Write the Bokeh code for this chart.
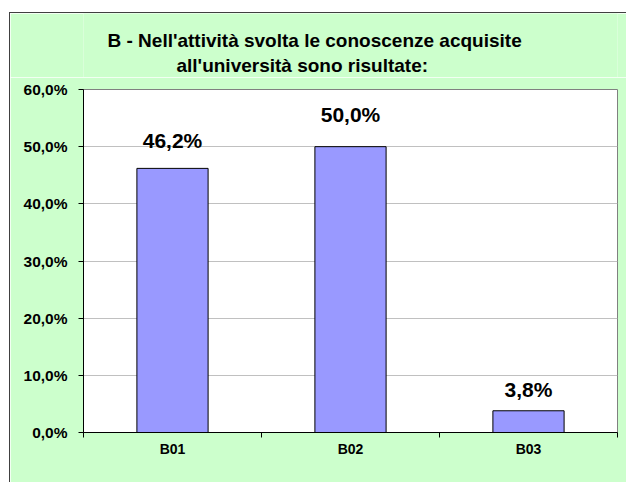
from bokeh.plotting import figure
from bokeh.layouts import column
from bokeh.models import (ColumnDataSource, Range1d, FixedTicker, CustomJSTickFormatter)
from bokeh.core.properties import value
from bokeh.embed import file_html
from bokeh.resources import INLINE

# ---- data ----
categories = ["B01", "B02", "B03"]
values = [46.2, 50.0, 3.8]
y_ticks = [0, 10, 20, 30, 40, 50, 60]
title_lines = ["B - Nell'attività svolta le conoscenze acquisite",
               "all'università sono risultate:"]

# ---- style ----
label_offsets = [-28, -32, -21]
title_x = [24, 93]       # pixel positions in the title strip (from plot-area left)
title_y = [27, 52]       # pixel positions from strip top
FONT = "Liberation Sans"
GREEN = "#CCFFCC"
BAR = "#9999FF"
W = 616
TH = 64
BL, BR = 73, 9
FW = W - BL - BR

# ---- title strip ----
tfig = figure(width=W, height=TH, x_range=Range1d(0, FW), y_range=Range1d(TH, 0),
              output_backend="svg", toolbar_location=None, title=None,
              x_axis_type=None, y_axis_type=None,
              min_border_left=BL, min_border_right=BR,
              min_border_top=0, min_border_bottom=0,
              border_fill_color=GREEN, background_fill_color=GREEN, outline_line_color=None)
tfig.xgrid.grid_line_color = None
tfig.ygrid.grid_line_color = None
tfig.text(x=title_x, y=title_y, text=title_lines, text_align="left",
          text_baseline="alphabetic", text_font=value(FONT), text_font_style="bold",
          text_font_size="19px", text_color="black")

# ---- chart ----
xs = [i + 0.5 for i in range(len(categories))]
labels = [f"{v:.1f}".replace(".", ",") + "%" for v in values]
src = ColumnDataSource(dict(x=xs, top=values, lab=labels, off=label_offsets))

p = figure(width=W, height=405, title=None,
           x_range=Range1d(0, len(categories)), y_range=Range1d(y_ticks[0], y_ticks[-1]),
           output_backend="svg", toolbar_location=None,
           min_border_left=BL, min_border_right=BR, min_border_top=12, min_border_bottom=50,
           border_fill_color=GREEN, background_fill_color="white")
p.outline_line_color = "#808080"
p.outline_line_width = 1

p.vbar(x="x", top="top", bottom=0, width=0.4, source=src,
       fill_color=BAR, line_color="black", line_width=1)
p.text(x="x", y="top", text="lab", y_offset="off", source=src,
       text_align="center", text_baseline="alphabetic",
       text_font_size="21px", text_font_style="bold", text_color="black",
       text_font=value(FONT))

xa = p.xaxis[0]
xa.ticker = FixedTicker(ticks=xs, minor_ticks=list(range(len(categories) + 1)))
xa.formatter = CustomJSTickFormatter(args=dict(labels=categories),
                                     code="return labels[Math.floor(tick)];")
xa.major_tick_out = 0
xa.major_tick_in = 0
xa.minor_tick_out = 5
xa.minor_tick_in = 0
xa.minor_tick_line_color = "black"
xa.axis_line_color = "black"
xa.major_label_text_font = FONT
xa.major_label_text_font_style = "bold"
xa.major_label_text_font_size = "14px"
xa.major_label_text_color = "black"
xa.major_label_standoff = 3

ya = p.yaxis[0]
ya.ticker = FixedTicker(ticks=y_ticks)
ya.formatter = CustomJSTickFormatter(code="return tick.toFixed(1).replace('.', ',') + '%';")
ya.major_tick_out = 5
ya.major_tick_in = 0
ya.minor_tick_out = 0
ya.minor_tick_in = 0
ya.axis_line_color = "black"
ya.major_tick_line_color = "black"
ya.major_label_text_font = FONT
ya.major_label_text_font_style = "bold"
ya.major_label_text_font_size = "15.5px"
ya.major_label_text_color = "black"
ya.major_label_standoff = 11

p.xgrid.grid_line_color = None
p.ygrid.grid_line_color = "#C0C0C0"
p.ygrid.ticker = FixedTicker(ticks=y_ticks)

layout = column(tfig, p, spacing=0, margin=(12, 0, 0, 9),
                styles={"border-left": "1px solid #404040", "border-top": "1px solid #404040"})

open("out.html", "w").write(file_html(layout, INLINE))
